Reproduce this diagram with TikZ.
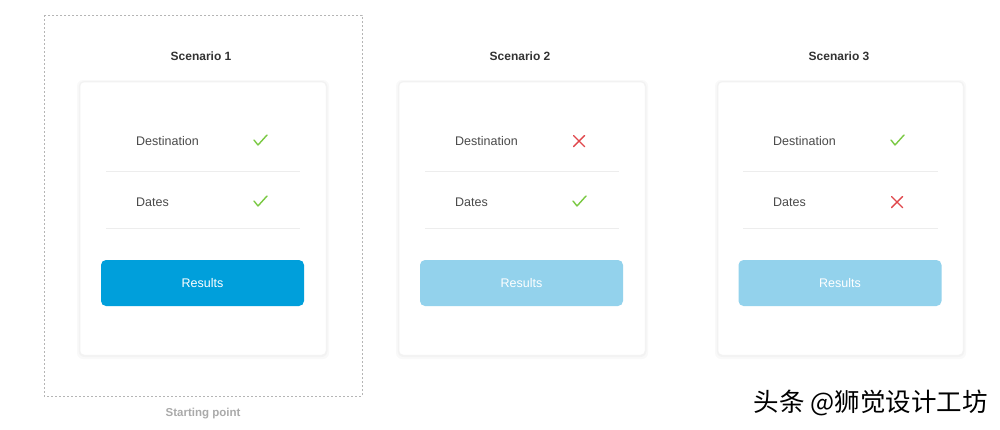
\documentclass[tikz,border=0pt]{standalone}
\usepackage{fontspec}
\setmainfont{Liberation Sans}
\newfontfamily\cjk{Noto Sans CJK SC}
\usetikzlibrary{positioning}
\definecolor{labelgray}{HTML}{4A4A4A}
\definecolor{titlegray}{HTML}{333333}
\definecolor{notegray}{HTML}{AAAAAA}
\definecolor{framegray}{HTML}{B5B5B5}
\definecolor{rulegray}{HTML}{EDEDED}
\definecolor{okgreen}{HTML}{7AC943}
\definecolor{nored}{HTML}{E0474C}
\definecolor{btnblue}{HTML}{009FDB}
\definecolor{btnpale}{HTML}{93D2EC}
\tikzset{
  title/.style={font=\fontsize{12}{14}\selectfont\bfseries, text=titlegray},
  field/.style={font=\fontsize{12.5}{14}\selectfont, text=labelgray, anchor=west, inner sep=0pt},
  card/.style={draw=black!5, fill=white, rounded corners=4pt, line width=0.5pt},
  cardshadow/.style={fill=black, opacity=0.025, rounded corners=6pt},
  button/.style={rounded corners=5pt, text=white, font=\fontsize{12.5}{14}\selectfont},
  sep/.style={draw=rulegray, line width=1pt},
  okmark/.pic={\draw[okgreen, line width=1.4pt, line cap=round, line join=round]
    (-6,0) -- (-2,5) -- (7,-5);},
  nomark/.pic={\draw[nored, line width=1.4pt, line cap=round]
    (-5.5,-5.5) -- (5.5,5.5) (-5.5,5.5) -- (5.5,-5.5);}
}
\begin{document}
\begin{tikzpicture}[x=1pt, y=-1pt]
	\useasboundingbox[fill=white] (0,0) rectangle (1000,429);
	%%%frame of the starting point
	\draw[framegray, dashed, dash pattern=on 2pt off 2pt, line width=0.8pt] (44,15) rectangle (362,396);
	\node[font=\fontsize{11.5}{13}\selectfont\bfseries, text=notegray] at (203,414) (start){Starting point};
	%%%scenario 1
	\node[title] at (201,56) (T1){Scenario 1};
	\fill[cardshadow] (77,80) rectangle (329,359);
	\fill[cardshadow] (78.5,81) rectangle (327.5,357);
	\draw[card] (80,82) rectangle (326,355);
	\node[field] at (136,141) (D1){Destination};
	\pic at (260,140) {okmark};
	\draw[sep] (106,171) -- (300,171);
	\node[field] at (136,202) (A1){Dates};
	\pic at (260,201) {okmark};
	\draw[sep] (106,228) -- (300,228);
	\node[button, fill=btnblue, minimum width=203pt, minimum height=46pt] at (202.5,283) (R1){Results};
	%%%scenario 2
	\node[title] at (520,56) (T2){Scenario 2};
	\fill[cardshadow] (396,80) rectangle (648,359);
	\fill[cardshadow] (397.5,81) rectangle (646.5,357);
	\draw[card] (399,82) rectangle (645,355);
	\node[field] at (455,141) (D2){Destination};
	\pic at (579,141) {nomark};
	\draw[sep] (425,171) -- (619,171);
	\node[field] at (455,202) (A2){Dates};
	\pic at (579,201) {okmark};
	\draw[sep] (425,228) -- (619,228);
	\node[button, fill=btnpale, minimum width=203pt, minimum height=46pt] at (521.5,283) (R2){Results};
	%%%scenario 3
	\node[title] at (839,56) (T3){Scenario 3};
	\fill[cardshadow] (715,80) rectangle (966,359);
	\fill[cardshadow] (716.5,81) rectangle (964.5,357);
	\draw[card] (718,82) rectangle (963,355);
	\node[field] at (773,141) (D3){Destination};
	\pic at (897,140) {okmark};
	\draw[sep] (743,171) -- (938,171);
	\node[field] at (773,202) (A3){Dates};
	\pic at (897,202) {nomark};
	\draw[sep] (743,228) -- (938,228);
	\node[button, fill=btnpale, minimum width=203pt, minimum height=46pt] at (840,283) (R3){Results};
	%%%watermark
	\node[font=\cjk\fontsize{25.5}{28}\selectfont, text=black, anchor=east, inner sep=0pt] at (988,403) (mark){头条 @狮觉设计工坊};
\end{tikzpicture}
\end{document}
